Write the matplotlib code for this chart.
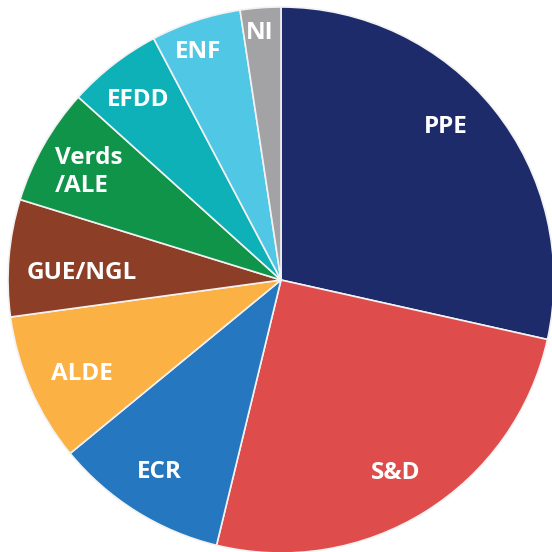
import matplotlib.pyplot as plt

# Groups of the European Parliament (seats)
groups = ["PPE", "S&D", "ECR", "ALDE", "GUE/NGL", "Verds\n/ALE", "EFDD", "ENF", "NI"]
seats = [214, 190, 77, 66, 52, 52, 42, 40, 18]
colors = ["#1d2b6b", "#df4c4c", "#2577c0", "#fbb143", "#8c3e26",
          "#10944a", "#0fb1b8", "#4fc7e5", "#a3a3a6"]

# label centres in pixels of the 552x552 picture
label_px = [(446, 127), (396, 473), (159, 472), (82, 374), (82, 273),
            (55, 172), (138, 100), (198, 52), (260, 33)]

CX, CY, R = 281, 280, 273  # pie centre and radius in pixels
W = H = 552

fig = plt.figure(figsize=(5.52, 5.52), dpi=100)
ax = fig.add_axes([0, 0, 1, 1])
ax.pie(seats, colors=colors, startangle=90, counterclock=False,
       radius=1, center=(0, 0),
       wedgeprops=dict(edgecolor="#f2f2f2", linewidth=1.2))
ax.set_xlim(-CX / R, (W - CX) / R)
ax.set_ylim(-(H - CY) / R, CY / R)
ax.set_aspect("auto")
ax.axis("off")

for name, (px, py) in zip(groups, label_px):
    x = (px - CX) / R
    y = (CY - py) / R
    ha = "left" if "\n" in name else "center"
    ax.text(x, y, name, color="white", fontsize=17.5, fontweight="bold",
            family="Open Sans", ha=ha, va="center", linespacing=1.22)

fig.savefig("out.png", dpi=100)
